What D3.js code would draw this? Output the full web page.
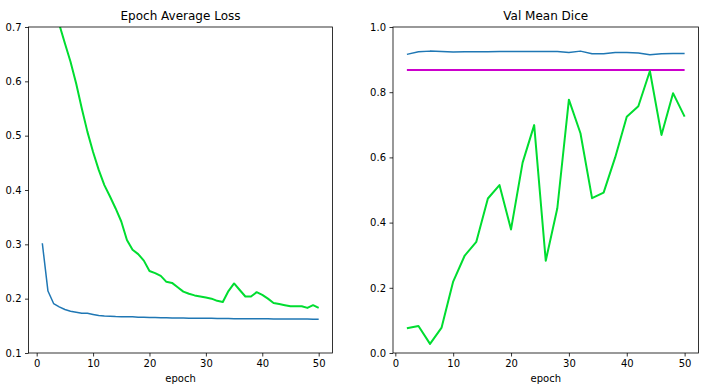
<!DOCTYPE html>
<html>
<head>
<meta charset="utf-8">
<script src="https://cdn.jsdelivr.net/npm/d3@7"></script>
<style>
  html, body { margin: 0; padding: 0; background: #fff; }
  svg { display: block; font-family: "DejaVu Sans", sans-serif; }
</style>
</head>
<body>
<svg id="chart" width="714" height="390"></svg>
<script>
// ---- data ----
const lossEpochs = d3.range(1, 51);
const trainLoss = [0.302, 0.214, 0.191, 0.185, 0.180, 0.177, 0.175, 0.173, 0.173, 0.171,
                   0.169, 0.168, 0.1675, 0.167, 0.1668, 0.1665, 0.1665, 0.166, 0.1658, 0.1655,
                   0.1652, 0.165, 0.1648, 0.1645, 0.1645, 0.1642, 0.164, 0.164, 0.164, 0.1638,
                   0.1638, 0.1635, 0.1635, 0.1635, 0.1632, 0.1632, 0.1632, 0.163, 0.163, 0.163,
                   0.163, 0.1628, 0.1628, 0.1628, 0.1625, 0.1625, 0.1625, 0.1625, 0.1623, 0.1623];
const valLoss = [0.86, 0.79, 0.74, 0.705, 0.670, 0.636, 0.596, 0.550, 0.507, 0.470,
                 0.437, 0.409, 0.388, 0.366, 0.342, 0.308, 0.290, 0.282, 0.270, 0.251,
                 0.247, 0.242, 0.231, 0.229, 0.221, 0.213, 0.209, 0.206, 0.204, 0.202,
                 0.200, 0.196, 0.194, 0.214, 0.228, 0.216, 0.204, 0.204, 0.212, 0.207,
                 0.200, 0.192, 0.190, 0.188, 0.186, 0.186, 0.186, 0.183, 0.188, 0.183];

const diceEpochs = d3.range(2, 51, 2);
const trainDice = [0.916, 0.924, 0.926, 0.925, 0.923, 0.924, 0.924, 0.924, 0.925, 0.925,
                   0.925, 0.925, 0.925, 0.925, 0.922, 0.926, 0.918, 0.918, 0.922, 0.922,
                   0.920, 0.915, 0.918, 0.919, 0.919];
const valDice = [0.076, 0.083, 0.028, 0.078, 0.219, 0.299, 0.341, 0.474, 0.515, 0.379,
                 0.584, 0.699, 0.283, 0.444, 0.777, 0.674, 0.475, 0.492, 0.600, 0.725,
                 0.757, 0.865, 0.669, 0.797, 0.725];
const bestDice = 0.868;

const lossYTicks = [0.1, 0.2, 0.3, 0.4, 0.5, 0.6, 0.7];
const diceYTicks = [0.0, 0.2, 0.4, 0.6, 0.8, 1.0];
const xTicks = [0, 10, 20, 30, 40, 50];

// ---- styling ----
const BLUE = "#1f77b4", GREEN = "#00dd30", MAGENTA = "#cc00cc";
const svg = d3.select("#chart");

function panel(opts) {
  const {left, right, top, bottom, xDomain, yDomain, yTicks, yFmt, title, id} = opts;
  const x = d3.scaleLinear().domain(xDomain).range([left, right]);
  const y = d3.scaleLinear().domain(yDomain).range([bottom, top]);
  const g = svg.append("g");

  g.append("clipPath").attr("id", id).append("rect")
    .attr("x", left).attr("y", top).attr("width", right - left).attr("height", bottom - top);

  const xAxis = g.append("g").attr("transform", `translate(0,${bottom})`)
    .call(d3.axisBottom(x).tickValues(xTicks).tickFormat(d3.format("d")).tickSize(3.5).tickPadding(3.5));
  const yAxis = g.append("g").attr("transform", `translate(${left},0)`)
    .call(d3.axisLeft(y).tickValues(yTicks).tickFormat(yFmt).tickSize(3.5).tickPadding(3.5));
  [xAxis, yAxis].forEach(a => {
    a.select(".domain").remove();
    a.selectAll("line").attr("stroke", "#000").attr("stroke-width", 0.8);
    a.selectAll("text").attr("fill", "#000").style("font-size", "10px").style("font-family", "DejaVu Sans, sans-serif");
  });

  g.append("text").attr("x", (left + right) / 2).attr("y", top - 7)
    .attr("text-anchor", "middle").style("font-size", "12px").attr("fill", "#000").text(title);
  g.append("text").attr("x", (left + right) / 2).attr("y", bottom + 29)
    .attr("text-anchor", "middle").style("font-size", "10px").attr("fill", "#000").text("epoch");

  const plot = g.append("g").attr("clip-path", `url(#${id})`);
  return {x, y, g, plot, frame: () => g.append("rect")
    .attr("x", left).attr("y", top).attr("width", right - left).attr("height", bottom - top)
    .attr("fill", "none").attr("stroke", "#000").attr("stroke-width", 0.8)};
}

function drawLine(p, xs, ys, color, width) {
  const line = d3.line().x((d, i) => p.x(xs[i])).y(d => p.y(d));
  p.plot.append("path").datum(ys).attr("d", line)
    .attr("fill", "none").attr("stroke", color).attr("stroke-width", width)
    .attr("stroke-linejoin", "round").attr("stroke-linecap", "butt");
}

// Left panel
const p1 = panel({left: 28.5, right: 332.5, top: 27, bottom: 353,
  xDomain: [-1.45, 52.45], yDomain: [0.1, 0.7], yTicks: lossYTicks,
  yFmt: d3.format(".1f"), title: "Epoch Average Loss", id: "clip1"});
drawLine(p1, lossEpochs, trainLoss, BLUE, 1.5);
drawLine(p1, lossEpochs, valLoss, GREEN, 2);
p1.frame();

// Right panel
const p2 = panel({left: 393, right: 698.5, top: 27, bottom: 353,
  xDomain: [-0.4, 52.4], yDomain: [0, 1], yTicks: diceYTicks,
  yFmt: d3.format(".1f"), title: "Val Mean Dice", id: "clip2"});
drawLine(p2, diceEpochs, trainDice, BLUE, 1.5);
drawLine(p2, [diceEpochs[0], diceEpochs[diceEpochs.length - 1]], [bestDice, bestDice], MAGENTA, 2);
drawLine(p2, diceEpochs, valDice, GREEN, 2);
p2.frame();
</script>
</body>
</html>
